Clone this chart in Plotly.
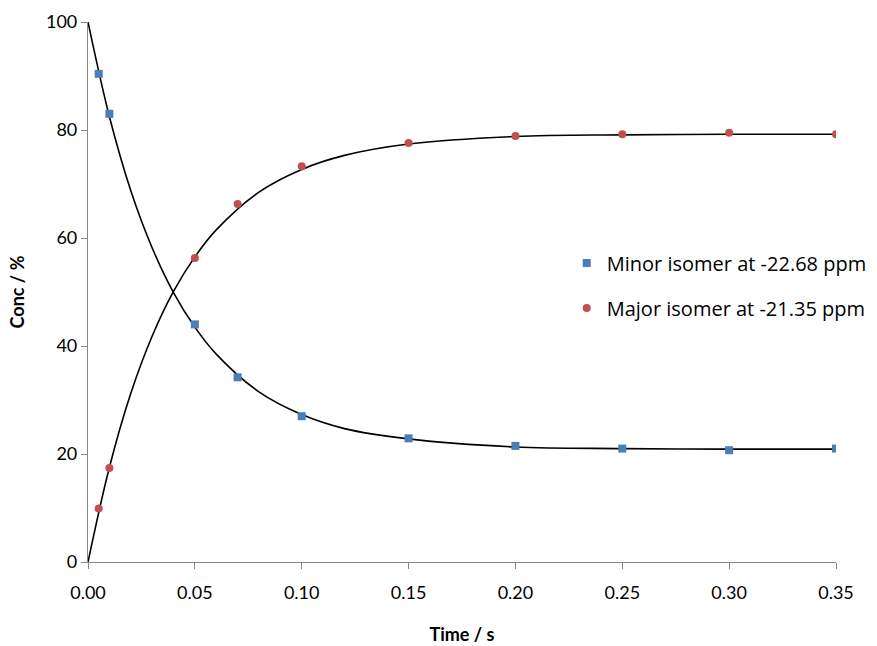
import plotly.graph_objects as go

# Measured data
time_s = [0.005, 0.01, 0.05, 0.07, 0.10, 0.15, 0.20, 0.25, 0.30, 0.35]
minor_conc = [90.4, 83.0, 44.0, 34.2, 27.0, 22.9, 21.5, 21.0, 20.7, 21.0]
major_conc = [9.9, 17.4, 56.3, 66.3, 73.3, 77.6, 78.9, 79.2, 79.5, 79.2]

# Fitted curves
fit_time = [0, 0.01, 0.02, 0.03, 0.04, 0.05, 0.06, 0.08, 0.10, 0.12, 0.15, 0.20, 0.25, 0.30, 0.35]
minor_fit = [100, 82.5, 68.8, 58.2, 49.9, 43.5, 38.5, 31.5, 27.3, 24.7, 22.8, 21.3, 21.0, 20.9, 20.9]
major_fit = [0, 17.5, 31.2, 41.8, 50.1, 56.5, 61.5, 68.5, 72.7, 75.3, 77.4, 78.8, 79.1, 79.2, 79.2]

minor_name = "Minor isomer at -22.68 ppm"
major_name = "Major isomer at -21.35 ppm"

x_ticks = [0, 0.05, 0.10, 0.15, 0.20, 0.25, 0.30, 0.35]
x_tick_labels = ["0.00", "0.05", "0.10", "0.15", "0.20", "0.25", "0.30", "0.35"]
y_ticks = [0, 20, 40, 60, 80, 100]

fig = go.Figure()
fig.add_trace(go.Scatter(x=fit_time, y=minor_fit, mode="lines", line=dict(color="black", width=1.6, shape="spline"),
                         showlegend=False, hoverinfo="skip"))
fig.add_trace(go.Scatter(x=fit_time, y=major_fit, mode="lines", line=dict(color="black", width=1.6, shape="spline"),
                         showlegend=False, hoverinfo="skip"))
fig.add_trace(go.Scatter(x=time_s, y=minor_conc, mode="markers", name=minor_name, legendgroup="a",
                         marker=dict(symbol="square", size=8, color="#4A7EBB")))
fig.add_trace(go.Scatter(x=time_s, y=major_conc, mode="markers", name=major_name, legendgroup="b",
                         marker=dict(symbol="circle", size=8, color="#C0504D")))

axis_common = dict(showgrid=False, zeroline=False, showline=True, linecolor="#888888", linewidth=1.2,
                   ticks="outside", tickcolor="#888888", ticklen=6, tickwidth=1.2, automargin=False,
                   tickfont=dict(family="Lato", size=18, color="black"))

fig.update_xaxes(range=[0, 0.35], tickvals=x_ticks, ticktext=x_tick_labels, ticklabelstandoff=8,
                 title=dict(text="<b>Time / s</b>", font=dict(family="Lato", size=18, color="black"), standoff=26),
                 **axis_common)
fig.update_yaxes(range=[0, 100], tickvals=y_ticks,
                 title=dict(text="<b>Conc / %</b>", font=dict(family="Lato", size=18, color="black"), standoff=16),
                 **axis_common)

fig.update_layout(
    width=877, height=646,
    margin=dict(l=88, r=41, t=22, b=84, autoexpand=False),
    plot_bgcolor="white", paper_bgcolor="white",
    legend=dict(x=0.64, y=0.512, xanchor="left", yanchor="middle", bgcolor="rgba(0,0,0,0)",
                font=dict(family="Open Sans", size=20, color="black"), tracegroupgap=16, itemwidth=30),
)
fig.write_html("out.html")
